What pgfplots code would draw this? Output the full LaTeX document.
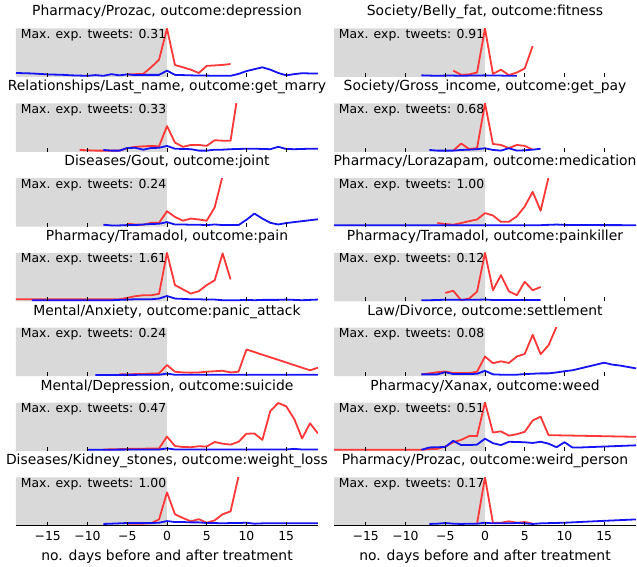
\documentclass[border=0pt]{standalone}
\usepackage{fontspec}
\setmainfont{DejaVu Sans}
\usepackage{pgfplots}
\pgfplotsset{compat=1.18}
\newcommand{\fs}[1]{\fontsize{#1pt}{#1pt}\selectfont}
\definecolor{myred}{RGB}{255,55,55}
\definecolor{myblue}{RGB}{20,20,245}
\pgfplotsset{
  panel/.style={scale only axis, width=302pt, height=48.5pt, anchor=south west,
    xmin=-19, xmax=19, ymin=-0.025, ymax=1, axis on top,
    axis x line*=bottom, axis y line=none, ytick=\empty,
    xtick={-15,-10,-5,0,5,10,15}, tick align=inside, major tick length=4pt,
    every tick/.style={black, line width=0.8pt},
    title style={at={(0.5,1)}, anchor=base, yshift=6.5pt, font=\fs{13.9}, inner sep=0pt}},
  upper/.style={xticklabels={}, axis line style={draw=none}},
  lower/.style={xticklabels={−15,−10,−5,0,5,10,15}, axis line style={black, line width=0.9pt},
    xticklabel style={anchor=base, yshift=-15pt, font=\fs{12.4}, inner sep=0pt},
    xlabel={no. days before and after treatment},
    xlabel style={at={(0.5,0)}, anchor=base, yshift=-35pt, font=\fs{13.9}, inner sep=0pt}},
  redl/.style={mark=none, line width=1.8pt, color=myred, line join=round},
  bluel/.style={mark=none, line width=1.8pt, color=myblue, line join=round},
}
\newcommand{\panel}[7]{%
\begin{axis}[panel, #7, at={(#1pt,#2pt)}, title={#3}]
\addplot[draw=none, fill=black!15] coordinates {(-19,-0.025) (0,-0.025) (0,1) (-19,1) (-19,-0.025)};
\addplot[redl] coordinates {#5};
\addplot[bluel] coordinates {#6};
\node[anchor=base west, font=\fs{12.4}, inner sep=0pt] at (rel axis cs:0,1) [xshift=4.7pt, yshift=-10pt] {Max. exp. tweets: #4};
\end{axis}}
\begin{document}
\begin{tikzpicture}
% ---------- left column ----------
\panel{16}{489}{Pharmacy/Prozac, outcome:depression}{0.31}
{(-5,0.03) (-4,0.035) (-3,0.04) (-2,0.18) (-1,0.34) (0,1.0) (1,0.23) (2,0.18) (3,0.13) (4,0.06) (5,0.21) (6,0.22) (7,0.23) (8,0.25)}
{(-19,0.06) (-18,0.055) (-17,0.05) (-16,0.04) (-15,0.03) (-14,0.025) (-13,0.02) (-12,0.01) (-11,0.005) (-10,0.0) (-9,0.015) (-8,0.0) (-7,0.035) (-6,0.01) (-5,0.03) (-4,0.015) (-3,0.02) (-2,0.02) (-1,0.02) (0,0.11) (1,0.02) (2,0.015) (3,0.01) (4,0.005) (5,0.005) (6,0.0) (7,0.0) (8,0.0) (9,0.04) (10,0.1) (11,0.14) (12,0.18) (13,0.13) (14,0.06) (15,0.01) (16,0.035) (17,0.055) (18,0.05) (19,0.05)}
{upper}
\panel{16}{414.2}{Relationships/Last\_name, outcome:get\_marry}{0.33}
{(-11,0.014) (-10,0.007) (-9,0) (-8,0) (-7,0) (-6,0) (-5,0.05) (-4,0.08) (-3,0.09) (-2,0.10) (-1,0.09) (0,0.52) (1,0.17) (2,0.08) (3,0.12) (4,0.12) (5,0.10) (6,0.22) (7,0.21) (8,0.21) (9,1.3)}
{(-8,0.014) (-7,0) (-6,0) (-5,0.055) (-4,0.06) (-3,0.02) (-2,0.055) (-1,0.06) (0,0.10) (1,0.04) (2,0.035) (3,0.03) (4,0) (5,0) (6,0.02) (7,0.02) (8,0.03) (9,0.035) (10,0.04) (11,0.04) (12,0.035) (13,0.03) (14,0.08) (15,0.035) (16,0.03) (17,0.035) (18,0.04) (19,0.04)}
{upper}
\panel{16}{339.4}{Diseases/Gout, outcome:joint}{0.24}
{(-5,0.035) (-4,0.02) (-3,0.014) (-2,0.055) (-1,0.055) (0,0.30) (1,0.18) (2,0.10) (3,0.145) (4,0.125) (5,0.10) (6,0.38) (7,1.05)}
{(-8,0.014) (-7,0) (-6,0) (-5,0.007) (-4,0.007) (-3,0.02) (-2,0.03) (-1,0.035) (0,0.07) (1,0.02) (2,0.02) (3,0.014) (4,0.014) (5,0.007) (6,0.02) (7,0.007) (8,0.007) (9,0.007) (10,0.12) (11,0.25) (12,0.145) (13,0.055) (14,0.02) (15,0.05) (16,0.07) (17,0.09) (18,0.11) (19,0.13)}
{upper}
\panel{16}{264.6}{Pharmacy/Tramadol, outcome:pain}{1.61}
{(-19,0.02) (-15,0.02) (-10,0.02) (-6,0.02) (-5,0.05) (-4,0.085) (-3,0.105) (-2,0.105) (-1,0.135) (0,1.0) (1,0.32) (2,0.23) (3,0.14) (4,0.19) (5,0.32) (6,0.42) (7,0.99) (8,0.44)}
{(-17,0) (-9,0) (-8,0) (-7,0) (-6,0.007) (-5,0.014) (-4,0.02) (-3,0.02) (-2,0.02) (-1,0.035) (0,0.09) (1,0.035) (2,0.028) (3,0.02) (4,0.02) (5,0.014) (6,0.014) (7,0) (8,0) (9,0) (10,0.007) (11,0) (12,0.007) (13,0.007) (14,0.007) (15,0.014) (16,0.007) (17,0) (18,0.007) (19,0.014)}
{upper}
\panel{16}{189.8}{Mental/Anxiety, outcome:panic\_attack}{0.24}
{(-6,0.014) (-5,0.014) (-4,0.02) (-3,0.02) (-2,0.03) (-1,0.035) (0,0.21) (1,0.07) (2,0.055) (3,0.05) (4,0.055) (5,0.07) (6,0.08) (7,0.09) (8,0.055) (9,0.07) (10,0.54) (18,0.10) (19,0.155)}
{(-9,0) (-5,0.003) (-1,0.005) (0,0.03) (1,0.005) (10,0.005) (19,0.005)}
{upper}
\panel{16}{115}{Mental/Depression, outcome:suicide}{0.47}
{(-8,0.007) (-7,0.01) (-6,0.014) (-5,0.02) (-4,0.02) (-3,0.024) (-2,0.027) (-1,0.03) (0,0.28) (1,0.08) (2,0.06) (3,0.055) (4,0.075) (5,0.07) (6,0.165) (7,0.13) (8,0.11) (9,0.17) (10,0.34) (11,0.345) (12,0.21) (13,0.82) (14,0.99) (15,0.92) (16,0.655) (17,0.24) (18,0.56) (19,0.345)}
{(-10,0.0) (-5,0.005) (-1,0.007) (0,0.03) (1,0.007) (15,0.007) (16,0.02) (17,0.007) (19,0.007)}
{upper}
\panel{16}{40.2}{Diseases/Kidney\_stones, outcome:weight\_loss}{1.00}
{(-5,0.02) (-4,0.02) (-3,0.02) (-2,0.03) (-1,0.11) (0,0.68) (1,0.22) (2,0.14) (3,0.07) (4,0.115) (5,0.04) (6,0.09) (7,0.22) (8,0.28) (9,1.02)}
{(-8,0.014) (-7,0.02) (-6,0.027) (-5,0.034) (-4,0.034) (-3,0.034) (-2,0.034) (-1,0.04) (0,0.075) (1,0.055) (2,0.055) (3,0.047) (4,0.047) (5,0.034) (6,0.034) (7,0.027) (8,0.034) (9,0.034) (10,0.04) (11,0.02) (12,0.027) (15,0.027) (19,0.027)}
{lower}
% ---------- right column ----------
\panel{334}{489}{Society/Belly\_fat, outcome:fitness}{0.91}
{(-4,0.11) (-3,0.02) (-2,0.03) (-1,0.07) (0,1.0) (1,0.04) (2,0.13) (3,0.015) (4,0.07) (5,0.155) (6,0.63)}
{(-8,0.01) (-7,0.005) (-6,0) (-5,0.005) (-4,0.005) (-3,0) (-2,0.005) (-1,0.005) (0,0.01) (1,0.005) (2,0.005) (3,0) (4,0)}
{upper}
\panel{334}{414.2}{Society/Gross\_income, outcome:get\_pay}{0.68}
{(-4,0) (-3,0.15) (-2,0.035) (-1,0.05) (0,1.0) (1,0.14) (2,0.12) (3,0.055) (4,0.12) (5,0.10) (6,0.02)}
{(-7,0.014) (-6,0) (-5,0) (-4,0) (-3,0.014) (-2,0.02) (-1,0.03) (0,0.05) (1,0.014) (2,0) (3,0.05) (4,0) (5,0.007) (6,0.02) (7,0.04)}
{upper}
\panel{334}{339.4}{Pharmacy/Lorazapam, outcome:medication}{1.00}
{(-6,0.05) (-5,0.03) (-4,0.014) (-3,0.05) (-2,0.09) (-1,0.125) (0,0.26) (1,0.21) (2,0.076) (3,0.076) (4,0.19) (5,0.40) (6,0.71) (7,0.31) (8,1.02)}
{(-19,0.005) (-10,0.005) (0,0.005) (7,0.005) (8,0.012) (9,0.018) (10,0.012) (11,0.008) (19,0.005)}
{upper}
\panel{334}{264.6}{Pharmacy/Tramadol, outcome:painkiller}{0.12}
{(-5,0.155) (-4,0.2) (-3,0) (-2,0.035) (-1,0.18) (0,1.0) (1,0.21) (2,0.53) (3,0.19) (4,0.105) (5,0.39) (6,0.21) (7,0.28)}
{(-8,0) (-7,0) (-6,0.005) (-5,0.01) (-4,0.01) (-3,0.01) (-2,0.01) (-1,0.01) (0,0.015) (1,0.005) (4,0.005) (7,0.005)}
{upper}
\panel{334}{189.8}{Law/Divorce, outcome:settlement}{0.08}
{(-8,0.014) (-7,0.035) (-6,0.06) (-5,0.075) (-4,0.04) (-3,0.04) (-2,0.04) (-1,0.07) (0,0.39) (1,0.25) (2,0.29) (3,0.255) (4,0.39) (5,0.445) (6,0.85) (7,0.44) (8,0.63) (9,1.02)}
{(-8,0.014) (-7,0.014) (-6,0.014) (-5,0.06) (-4,0.02) (-3,0.02) (-2,0.02) (-1,0.027) (0,0.09) (1,0.014) (2,0.007) (3,0.007) (4,0.007) (5,0.02) (6,0.027) (7,0.035) (8,0.035) (9,0.055) (10,0.08) (11,0.10) (12,0.14) (13,0.18) (14,0.22) (15,0.26) (16,0.22) (17,0.2) (18,0.17) (19,0.14)}
{upper}
\panel{334}{115}{Pharmacy/Xanax, outcome:weed}{0.51}
{(-19,0) (-15,0) (-10,0) (-8,0) (-7,0.014) (-6,0.02) (-5,0.07) (-4,0.16) (-3,0.21) (-2,0.29) (-1,0.29) (0,1.0) (1,0.365) (2,0.39) (3,0.30) (4,0.33) (5,0.38) (6,0.62) (7,0.70) (8,0.31) (19,0.275)}
{(-8,0) (-7,0.05) (-6,0.055) (-5,0.06) (-4,0.19) (-3,0.10) (-2,0.10) (-1,0.11) (0,0.235) (1,0.14) (2,0.10) (3,0.17) (4,0.165) (5,0.16) (6,0.145) (7,0.17) (8,0.13) (9,0.055) (10,0.16) (11,0.05) (12,0.05) (19,0.095)}
{upper}
\panel{334}{40.2}{Pharmacy/Prozac, outcome:weird\_person}{0.17}
{(-1,0.02) (0,1.0) (1,0.034) (2,0.04) (3,0.07) (4,0.04) (5,0.055) (6,0.02)}
{(-7,0.014) (-6,0.02) (-5,0.034) (-4,0.02) (-3,0.014) (-2,0.02) (-1,0.02) (0,0.04) (1,0.027) (2,0.027) (3,0.027) (4,0.034) (5,0.027) (6,0.014) (7,0.027) (10,0.04) (15,0.08) (19,0.11)}
{lower}
\pgfresetboundingbox
\path[use as bounding box] (0,0) rectangle (637pt,566pt);
\end{tikzpicture}
\end{document}
